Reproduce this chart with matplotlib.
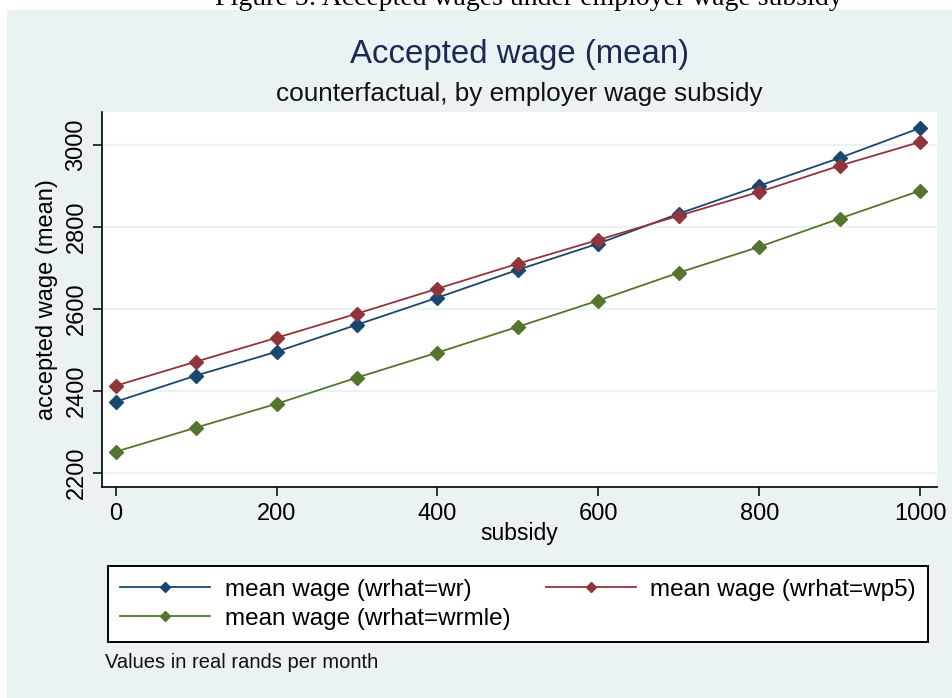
import matplotlib.pyplot as plt
from matplotlib.patches import Rectangle

# ---- data
subsidy = [0, 100, 200, 300, 400, 500, 600, 700, 800, 900, 1000]
wage_wr = [2373, 2437, 2495, 2561, 2627, 2695, 2759, 2832, 2900, 2968, 3041]
wage_wp5 = [2412, 2471, 2529, 2588, 2649, 2710, 2768, 2827, 2885, 2949, 3007]
wage_wrmle = [2251, 2310, 2368, 2432, 2493, 2556, 2620, 2688, 2751, 2820, 2888]
labels = ["mean wage (wrhat=wr)", "mean wage (wrhat=wp5)",
          "mean wage (wrhat=wrmle)"]
xticks = [0, 200, 400, 600, 800, 1000]
yticks = [2200, 2400, 2600, 2800, 3000]

plt.rcParams['font.family'] = ['Liberation Sans', 'DejaVu Sans']

bg = '#EAF2F3'
cols = ['#1A476F', '#90353B', '#55752F']

fig = plt.figure(figsize=(9.53, 6.98), dpi=100)
fig.patch.set_facecolor('white')

# graph region background (behind everything)
fig.patches.append(Rectangle((7 / 953, 0), 1, 1 - 10 / 698,
                             transform=fig.transFigure, facecolor=bg,
                             edgecolor='none', zorder=-10))

# caption of the page, cut off at the top as in the reference
fig.text(529 / 953, 1.0 + 1 / 698, "Figure 5: Accepted wages under employer wage subsidy",
         family=['Liberation Serif', 'DejaVu Serif'], fontsize=20,
         ha='center', va='center')

ax = fig.add_axes([102 / 953, 1 - 487 / 698, (937 - 102) / 953, (487 - 112) / 698])
ax.set_facecolor('white')
ax.set_zorder(2)

series = [wage_wr, wage_wp5, wage_wrmle]
handles = []
for ys, c, lab in zip(series, cols, labels):
    h, = ax.plot(subsidy, ys, color=c, lw=1.3, marker='D', markersize=7.5,
                 label=lab)
    handles.append(h)

ax.set_xlim(-17, 1021)
ax.set_ylim(2165, 3080)
ax.set_xticks(xticks)
ax.set_yticks(yticks)
ax.yaxis.grid(True, color=bg, lw=1.6)
ax.set_axisbelow(True)

for s in ['top', 'right']:
    ax.spines[s].set_visible(False)
for s in ['left', 'bottom']:
    ax.spines[s].set_linewidth(1.2)
    ax.spines[s].set_color('black')

ax.tick_params(axis='both', direction='out', length=6.5, width=1.1,
               labelsize=17)
ax.tick_params(axis='x', pad=5)
ax.tick_params(axis='y', pad=4)
plt.setp(ax.get_yticklabels(), rotation=90, va='center')

ax.set_xlabel("subsidy", fontsize=16.5, labelpad=-2)
ax.set_ylabel("accepted wage (mean)", fontsize=17)
ax.yaxis.set_label_coords((47 - 102) / 835, (487 - 300) / 375)
ax.yaxis.label.set_va('center')

cx = 519 / 953
fig.text(cx, 1 - 55 / 698, "Accepted wage (mean)", fontsize=23.8,
         color='#1C2A52', ha='center', va='center')
fig.text(cx, 1 - 94 / 698, "counterfactual, by employer wage subsidy",
         fontsize=18.8, color='#111111', ha='center', va='center')

# legend, filled row-wise like the reference
order = [0, 2, 1]
leg = fig.legend(handles=[handles[i] for i in order],
                 labels=[labels[i] for i in order], ncol=2,
                 loc='lower left', mode='expand',
                 bbox_to_anchor=(108 / 953, 1 - 642 / 698, 820 / 953, 76 / 698),
                 fontsize=17.5, frameon=True, fancybox=False, framealpha=1,
                 handlelength=3.7, markerscale=0.7, borderpad=0.5,
                 borderaxespad=0, labelspacing=0.3, handletextpad=0.6)
leg.get_frame().set_edgecolor('black')
leg.get_frame().set_linewidth(1.4)
leg.get_frame().set_facecolor('white')
leg.set_zorder(3)

fig.text(105 / 953, 1 - 662 / 698, "Values in real rands per month",
         fontsize=14.5, ha='left', va='center', color='#111111')

fig.savefig('out.png', dpi=100, facecolor=fig.get_facecolor())
